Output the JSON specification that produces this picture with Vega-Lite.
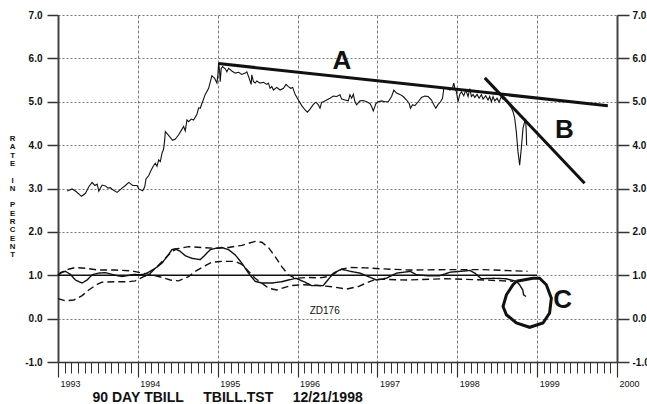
{
  "$schema": "https://vega.github.io/schema/vega-lite/v6.json",
  "width": 559,
  "height": 347,
  "autosize": "none",
  "padding": {"left": 58, "top": 15, "right": 30, "bottom": 42},
  "background": "white",
  "config": {"view": {"stroke": null}, "font": "Liberation Sans", "text": {"font": "Liberation Sans"}},
  "datasets": {
    "tbill": [
      {"x":1993.115,"y":2.94},{"x":1993.177,"y":2.99},{"x":1993.227,"y":2.93},{"x":1993.294,"y":2.82},{"x":1993.344,"y":2.89},
      {"x":1993.386,"y":3.04},{"x":1993.427,"y":3.14},{"x":1993.461,"y":3.07},{"x":1993.490,"y":3.10},{"x":1993.511,"y":2.94},
      {"x":1993.552,"y":3.08},{"x":1993.594,"y":3.06},{"x":1993.627,"y":3.01},{"x":1993.656,"y":3.02},{"x":1993.686,"y":2.97},
      {"x":1993.740,"y":2.91},{"x":1993.802,"y":3.01},{"x":1993.844,"y":3.07},{"x":1993.886,"y":3.14},{"x":1993.936,"y":3.07},
      {"x":1993.990,"y":3.07},{"x":1994.011,"y":2.99},{"x":1994.061,"y":2.95},{"x":1994.086,"y":3.04},{"x":1994.102,"y":3.22},
      {"x":1994.136,"y":3.30},{"x":1994.169,"y":3.43},{"x":1994.198,"y":3.53},{"x":1994.219,"y":3.58},{"x":1994.240,"y":3.51},
      {"x":1994.261,"y":3.66},{"x":1994.281,"y":3.62},{"x":1994.302,"y":3.81},{"x":1994.323,"y":3.91},{"x":1994.336,"y":4.12},
      {"x":1994.344,"y":4.31},{"x":1994.377,"y":4.24},{"x":1994.436,"y":4.11},{"x":1994.469,"y":4.14},{"x":1994.511,"y":4.24},
      {"x":1994.544,"y":4.34},{"x":1994.573,"y":4.43},{"x":1994.594,"y":4.33},{"x":1994.615,"y":4.58},{"x":1994.636,"y":4.54},
      {"x":1994.669,"y":4.60},{"x":1994.698,"y":4.58},{"x":1994.740,"y":4.71},{"x":1994.761,"y":4.86},{"x":1994.781,"y":4.85},
      {"x":1994.802,"y":4.96},{"x":1994.844,"y":5.17},{"x":1994.886,"y":5.31},{"x":1994.907,"y":5.46},{"x":1994.927,"y":5.60},
      {"x":1994.961,"y":5.54},{"x":1994.990,"y":5.43},{"x":1995.002,"y":5.62},{"x":1995.011,"y":5.89},{"x":1995.023,"y":5.73},
      {"x":1995.031,"y":5.46},{"x":1995.044,"y":5.77},{"x":1995.061,"y":5.81},{"x":1995.094,"y":5.76},{"x":1995.115,"y":5.69},
      {"x":1995.136,"y":5.77},{"x":1995.177,"y":5.71},{"x":1995.219,"y":5.66},{"x":1995.261,"y":5.68},{"x":1995.302,"y":5.63},
      {"x":1995.344,"y":5.66},{"x":1995.365,"y":5.69},{"x":1995.394,"y":5.54},{"x":1995.419,"y":5.40},{"x":1995.427,"y":5.62},
      {"x":1995.448,"y":5.46},{"x":1995.469,"y":5.43},{"x":1995.490,"y":5.48},{"x":1995.531,"y":5.43},{"x":1995.573,"y":5.45},
      {"x":1995.615,"y":5.40},{"x":1995.635,"y":5.43},{"x":1995.656,"y":5.31},{"x":1995.677,"y":5.35},{"x":1995.698,"y":5.27},
      {"x":1995.739,"y":5.33},{"x":1995.781,"y":5.27},{"x":1995.823,"y":5.31},{"x":1995.856,"y":5.40},{"x":1995.885,"y":5.35},
      {"x":1995.914,"y":5.31},{"x":1995.939,"y":5.33},{"x":1995.969,"y":5.17},{"x":1996.010,"y":5.04},{"x":1996.052,"y":4.91},
      {"x":1996.094,"y":4.81},{"x":1996.123,"y":4.76},{"x":1996.156,"y":4.83},{"x":1996.198,"y":4.94},{"x":1996.231,"y":4.99},
      {"x":1996.260,"y":4.93},{"x":1996.281,"y":4.85},{"x":1996.302,"y":4.99},{"x":1996.323,"y":5.00},{"x":1996.365,"y":5.04},
      {"x":1996.406,"y":5.08},{"x":1996.448,"y":5.13},{"x":1996.490,"y":5.12},{"x":1996.531,"y":5.16},{"x":1996.552,"y":5.06},
      {"x":1996.594,"y":5.04},{"x":1996.635,"y":5.02},{"x":1996.656,"y":5.16},{"x":1996.677,"y":5.08},{"x":1996.698,"y":5.17},
      {"x":1996.719,"y":5.00},{"x":1996.739,"y":4.93},{"x":1996.781,"y":5.02},{"x":1996.823,"y":5.03},{"x":1996.864,"y":5.00},
      {"x":1996.906,"y":4.96},{"x":1996.927,"y":4.89},{"x":1996.948,"y":4.79},{"x":1996.981,"y":4.96},{"x":1997.010,"y":5.00},
      {"x":1997.052,"y":5.02},{"x":1997.094,"y":5.00},{"x":1997.135,"y":5.00},{"x":1997.177,"y":5.12},{"x":1997.206,"y":5.27},
      {"x":1997.239,"y":5.20},{"x":1997.281,"y":5.17},{"x":1997.323,"y":5.12},{"x":1997.365,"y":5.04},{"x":1997.398,"y":4.96},
      {"x":1997.414,"y":4.85},{"x":1997.440,"y":4.93},{"x":1997.469,"y":4.91},{"x":1997.510,"y":5.00},{"x":1997.552,"y":5.10},
      {"x":1997.594,"y":5.13},{"x":1997.635,"y":5.12},{"x":1997.677,"y":5.04},{"x":1997.706,"y":4.93},{"x":1997.731,"y":4.85},
      {"x":1997.760,"y":4.94},{"x":1997.790,"y":5.00},{"x":1997.815,"y":5.08},{"x":1997.831,"y":5.30},{"x":1997.856,"y":5.31},
      {"x":1997.885,"y":5.30},{"x":1997.906,"y":5.27},{"x":1997.939,"y":5.31},{"x":1997.956,"y":5.43},{"x":1997.969,"y":5.31},
      {"x":1997.989,"y":5.23},{"x":1998.010,"y":5.00},{"x":1998.031,"y":5.17},{"x":1998.052,"y":5.23},{"x":1998.081,"y":5.14},
      {"x":1998.106,"y":5.27},{"x":1998.135,"y":5.12},{"x":1998.156,"y":5.30},{"x":1998.177,"y":5.12},{"x":1998.198,"y":5.17},
      {"x":1998.219,"y":5.10},{"x":1998.248,"y":5.17},{"x":1998.273,"y":5.08},{"x":1998.302,"y":5.16},{"x":1998.323,"y":5.06},
      {"x":1998.356,"y":5.14},{"x":1998.385,"y":5.04},{"x":1998.406,"y":5.12},{"x":1998.427,"y":5.00},{"x":1998.448,"y":5.12},
      {"x":1998.469,"y":5.02},{"x":1998.498,"y":5.08},{"x":1998.523,"y":4.99},{"x":1998.552,"y":5.12},{"x":1998.573,"y":5.06},
      {"x":1998.594,"y":5.10},{"x":1998.614,"y":5.04},{"x":1998.635,"y":5.00},{"x":1998.656,"y":4.91},{"x":1998.677,"y":4.86},
      {"x":1998.698,"y":4.77},{"x":1998.719,"y":4.62},{"x":1998.739,"y":4.31},{"x":1998.760,"y":3.85},{"x":1998.781,"y":3.54},
      {"x":1998.802,"y":3.93},{"x":1998.823,"y":4.39},{"x":1998.844,"y":4.54},{"x":1998.856,"y":4.58},{"x":1998.864,"y":4.31},
      {"x":1998.868,"y":4.00}
    ],
    "osc": [
      {"s":"S","x":1993.000,"y":1.00},{"s":"S","x":1993.031,"y":1.06},{"s":"S","x":1993.094,"y":1.09},{"s":"S","x":1993.156,"y":1.02},
      {"s":"S","x":1993.219,"y":0.89},{"s":"S","x":1993.302,"y":0.82},{"s":"S","x":1993.365,"y":0.89},{"s":"S","x":1993.427,"y":1.01},
      {"s":"S","x":1993.510,"y":1.05},{"s":"S","x":1993.594,"y":1.06},{"s":"S","x":1993.677,"y":1.02},{"s":"S","x":1993.740,"y":0.99},
      {"s":"S","x":1993.802,"y":0.97},{"s":"S","x":1993.865,"y":0.99},{"s":"S","x":1993.948,"y":1.02},{"s":"S","x":1994.010,"y":1.01},
      {"s":"S","x":1994.073,"y":1.02},{"s":"S","x":1994.135,"y":1.07},{"s":"S","x":1994.219,"y":1.16},{"s":"S","x":1994.302,"y":1.28},
      {"s":"S","x":1994.365,"y":1.43},{"s":"S","x":1994.427,"y":1.59},{"s":"S","x":1994.469,"y":1.61},{"s":"S","x":1994.531,"y":1.55},
      {"s":"S","x":1994.594,"y":1.45},{"s":"S","x":1994.677,"y":1.39},{"s":"S","x":1994.781,"y":1.36},{"s":"S","x":1994.844,"y":1.47},
      {"s":"S","x":1994.906,"y":1.59},{"s":"S","x":1994.969,"y":1.62},{"s":"S","x":1995.052,"y":1.64},{"s":"S","x":1995.135,"y":1.59},
      {"s":"S","x":1995.219,"y":1.47},{"s":"S","x":1995.302,"y":1.28},{"s":"S","x":1995.385,"y":1.05},{"s":"S","x":1995.469,"y":0.86},
      {"s":"S","x":1995.552,"y":0.82},{"s":"S","x":1995.677,"y":0.82},{"s":"S","x":1995.802,"y":0.85},{"s":"S","x":1995.885,"y":0.89},
      {"s":"S","x":1995.980,"y":0.93},{"s":"S","x":1996.094,"y":0.84},{"s":"S","x":1996.177,"y":0.76},{"s":"S","x":1996.320,"y":0.76},
      {"s":"S","x":1996.450,"y":1.05},{"s":"S","x":1996.550,"y":1.14},{"s":"S","x":1996.660,"y":1.09},{"s":"S","x":1996.780,"y":1.05},
      {"s":"S","x":1996.990,"y":0.89},{"s":"S","x":1997.110,"y":0.93},{"s":"S","x":1997.240,"y":1.05},{"s":"S","x":1997.410,"y":1.09},
      {"s":"S","x":1997.490,"y":1.01},{"s":"S","x":1997.620,"y":0.99},{"s":"S","x":1997.780,"y":0.99},{"s":"S","x":1997.910,"y":1.07},
      {"s":"S","x":1998.160,"y":1.11},{"s":"S","x":1998.220,"y":1.05},{"s":"S","x":1998.300,"y":0.92},{"s":"S","x":1998.450,"y":0.93},
      {"s":"S","x":1998.610,"y":0.92},{"s":"S","x":1998.740,"y":0.86},{"s":"S","x":1998.780,"y":0.78},{"s":"S","x":1998.820,"y":0.66},
      {"s":"S","x":1998.830,"y":0.55},{"s":"S","x":1998.860,"y":0.51},
      {"s":"X","x":1993.000,"y":1.01},{"s":"X","x":1993.094,"y":1.12},{"s":"X","x":1993.219,"y":1.18},{"s":"X","x":1993.344,"y":1.16},
      {"s":"X","x":1993.510,"y":1.12},{"s":"X","x":1993.719,"y":1.12},{"s":"X","x":1993.927,"y":1.10},{"s":"X","x":1994.052,"y":1.05},
      {"s":"X","x":1994.177,"y":1.01},{"s":"X","x":1994.302,"y":0.95},{"s":"X","x":1994.406,"y":0.89},{"s":"X","x":1994.510,"y":0.87},
      {"s":"X","x":1994.635,"y":0.97},{"s":"X","x":1994.719,"y":1.09},{"s":"X","x":1994.823,"y":1.20},{"s":"X","x":1994.927,"y":1.30},
      {"s":"X","x":1995.052,"y":1.32},{"s":"X","x":1995.219,"y":1.32},{"s":"X","x":1995.302,"y":1.25},{"s":"X","x":1995.385,"y":1.09},
      {"s":"X","x":1995.469,"y":0.93},{"s":"X","x":1995.552,"y":0.82},{"s":"X","x":1995.640,"y":0.70},{"s":"X","x":1995.740,"y":0.66},
      {"s":"X","x":1995.910,"y":0.76},{"s":"X","x":1996.070,"y":0.78},{"s":"X","x":1996.240,"y":0.77},{"s":"X","x":1996.450,"y":0.73},
      {"s":"X","x":1996.610,"y":0.68},{"s":"X","x":1996.760,"y":0.74},{"s":"X","x":1996.910,"y":0.86},{"s":"X","x":1996.990,"y":0.91},
      {"s":"X","x":1997.370,"y":0.89},{"s":"X","x":1997.860,"y":0.92},{"s":"X","x":1998.360,"y":0.89},{"s":"X","x":1998.700,"y":0.86},
      {"s":"Y","x":1993.000,"y":0.46},{"s":"Y","x":1993.094,"y":0.41},{"s":"Y","x":1993.198,"y":0.43},{"s":"Y","x":1993.302,"y":0.53},
      {"s":"Y","x":1993.385,"y":0.66},{"s":"Y","x":1993.490,"y":0.79},{"s":"Y","x":1993.552,"y":0.84},{"s":"Y","x":1993.719,"y":0.85},
      {"s":"Y","x":1993.885,"y":0.85},{"s":"Y","x":1993.969,"y":0.87},{"s":"Y","x":1994.073,"y":0.97},{"s":"Y","x":1994.135,"y":1.01},
      {"s":"Y","x":1994.219,"y":1.16},{"s":"Y","x":1994.344,"y":1.39},{"s":"Y","x":1994.427,"y":1.55},{"s":"Y","x":1994.490,"y":1.61},
      {"s":"Y","x":1994.635,"y":1.66},{"s":"Y","x":1994.802,"y":1.64},{"s":"Y","x":1994.969,"y":1.62},{"s":"Y","x":1995.135,"y":1.64},
      {"s":"Y","x":1995.302,"y":1.69},{"s":"Y","x":1995.469,"y":1.78},{"s":"Y","x":1995.552,"y":1.76},{"s":"Y","x":1995.635,"y":1.64},
      {"s":"Y","x":1995.719,"y":1.43},{"s":"Y","x":1995.802,"y":1.20},{"s":"Y","x":1995.885,"y":1.01},{"s":"Y","x":1995.969,"y":0.93},
      {"s":"Y","x":1996.135,"y":0.95},{"s":"Y","x":1996.280,"y":0.94},{"s":"Y","x":1996.410,"y":0.98},{"s":"Y","x":1996.550,"y":1.14},
      {"s":"Y","x":1996.660,"y":1.18},{"s":"Y","x":1996.850,"y":1.17},{"s":"Y","x":1997.030,"y":1.15},{"s":"Y","x":1997.410,"y":1.12},
      {"s":"Y","x":1997.910,"y":1.13},{"s":"Y","x":1998.320,"y":1.13},{"s":"Y","x":1998.600,"y":1.11},{"s":"Y","x":1998.880,"y":1.09}
    ],
    "ref": [{"x":1993,"y":1},{"x":1999,"y":1}],
    "trend": [
      {"k":"A","x":1995.01,"y":5.88},{"k":"A","x":1999.885,"y":4.91},
      {"k":"B","x":1998.344,"y":5.55},{"k":"B","x":1999.594,"y":3.12}
    ],
    "circle": [
      {"i":0,"x":1998.740,"y":0.86},{"i":1,"x":1998.947,"y":0.93},{"i":2,"x":1999.031,"y":0.93},{"i":3,"x":1999.115,"y":0.78},
      {"i":4,"x":1999.178,"y":0.47},{"i":5,"x":1999.156,"y":0.13},{"i":6,"x":1999.073,"y":-0.10},{"i":7,"x":1998.906,"y":-0.20},
      {"i":8,"x":1998.740,"y":-0.10},{"i":9,"x":1998.615,"y":0.09},{"i":10,"x":1998.573,"y":0.28},{"i":11,"x":1998.615,"y":0.55},
      {"i":12,"x":1998.698,"y":0.78},{"i":13,"x":1998.740,"y":0.86}
    ],
    "letters": [
      {"t":"A","x":1996.556,"y":5.99},{"t":"B","x":1999.34,"y":4.40},{"t":"C","x":1999.32,"y":0.48}
    ],
    "notes": [{"t":"ZD176","x":1996.34,"y":0.18}]
  },
  "layer": [
    {
      "data": {"name": "tbill"},
      "mark": {"type": "line", "color": "#111", "strokeWidth": 1.1},
      "encoding": {
        "x": {"field": "x", "type": "quantitative", "scale": {"domain": [1993, 2000], "nice": false, "zero": false},
          "axis": {"orient": "bottom", "values": [1993,1994,1995,1996,1997,1998,1999,2000], "format": "d",
            "grid": true, "gridDash": [3,2], "gridColor": "#555", "gridWidth": 0.8,
            "tickSize": 15, "tickWidth": 1.2, "tickColor": "#333", "domainColor": "#333", "domainWidth": 1.5,
            "labelAlign": "left", "labelBaseline": "top", "labelPadding": 2, "labelOffset": 2, "labelFontSize": 9,
            "labelColor": "#111", "labelFlush": false, "labelOverlap": false, "labelBound": false,
            "title": "90\u00a0DAY\u00a0TBILL\u00a0\u00a0\u00a0\u00a0\u00a0TBILL.TST\u00a0\u00a0\u00a0\u00a0\u00a012/21/1998",
            "titleX": 34, "titleY": 39, "titleAlign": "left", "titleBaseline": "alphabetic", "titleFontSize": 14,
            "titleFontWeight": "bold", "titleColor": "#111"}},
        "y": {"field": "y", "type": "quantitative", "scale": {"domain": [-1, 7], "nice": false, "zero": false},
          "axis": {"orient": "left", "values": [-1,0,1,2,3,4,5,6,7],
            "labelExpr": "datum.value < 0 ? '-' + format(-datum.value, '.1f') : format(datum.value, '.1f')",
            "grid": true, "gridDash": [2,2], "gridColor": "#555", "gridWidth": 0.8,
            "tickSize": 11, "tickWidth": 1.5, "tickColor": "#333", "domainColor": "#444", "domainWidth": 2,
            "labelFontSize": 10, "labelFontWeight": "bold", "labelColor": "#111", "labelPadding": 5,
            "title": ["R","A","T","E","\u200b","I","N","\u200b","P","E","R","C","E","N","T"],
            "titleAngle": 0, "titleX": -46, "titleY": 119.5, "titleAlign": "center", "titleBaseline": "top",
            "titleFontSize": 7.8, "titleFontWeight": "bold", "titleLineHeight": 8.3, "titleColor": "#111"}}
      }
    },
    {
      "data": {"name": "osc"},
      "mark": {"type": "line", "color": "#111", "strokeWidth": 1.4},
      "encoding": {
        "x": {"field": "x", "type": "quantitative", "scale": {"domain": [1993, 2000], "nice": false, "zero": false},
          "axis": {"orient": "bottom", "values": [1993,1993.0833,1993.1667,1993.25,1993.3333,1993.4167,1993.5,1993.5833,1993.6667,1993.75,1993.8333,1993.9167,
            1994,1994.0833,1994.1667,1994.25,1994.3333,1994.4167,1994.5,1994.5833,1994.6667,1994.75,1994.8333,1994.9167,
            1995,1995.0833,1995.1667,1995.25,1995.3333,1995.4167,1995.5,1995.5833,1995.6667,1995.75,1995.8333,1995.9167,
            1996,1996.0833,1996.1667,1996.25,1996.3333,1996.4167,1996.5,1996.5833,1996.6667,1996.75,1996.8333,1996.9167,
            1997,1997.0833,1997.1667,1997.25,1997.3333,1997.4167,1997.5,1997.5833,1997.6667,1997.75,1997.8333,1997.9167,
            1998,1998.0833,1998.1667,1998.25,1998.3333,1998.4167,1998.5,1998.5833,1998.6667,1998.75,1998.8333,1998.9167,
            1999,1999.0833,1999.1667,1999.25,1999.3333,1999.4167,1999.5,1999.5833,1999.6667,1999.75,1999.8333,1999.9167,2000],
            "grid": false, "labels": false, "domain": false, "tickSize": 11, "tickWidth": 1, "tickColor": "#333", "title": null}},
        "y": {"field": "y", "type": "quantitative", "scale": {"domain": [-1, 7], "nice": false, "zero": false},
          "axis": {"orient": "right", "values": [-1,0,1,2,3,4,5,6,7],
            "labelExpr": "datum.value < 0 ? '-' + format(-datum.value, '.1f') : format(datum.value, '.1f')",
            "grid": false, "tickSize": 12, "tickWidth": 1.5, "tickColor": "#333", "domainColor": "#444", "domainWidth": 2,
            "labelFontSize": 10, "labelFontWeight": "bold", "labelColor": "#111", "labelPadding": 3, "title": null}},
        "detail": {"field": "s"},
        "strokeDash": {"field": "s", "type": "nominal", "scale": {"domain": ["S","X","Y"], "range": [[1,0],[7,4],[7,4]]}, "legend": null}
      }
    },
    {
      "data": {"name": "ref"},
      "mark": {"type": "line", "color": "#111", "strokeWidth": 1.3},
      "encoding": {
        "x": {"field": "x", "type": "quantitative", "scale": {"domain": [1993, 2000], "nice": false, "zero": false}, "axis": null},
        "y": {"field": "y", "type": "quantitative", "scale": {"domain": [-1, 7], "nice": false, "zero": false}, "axis": null}
      }
    },
    {
      "data": {"name": "trend"},
      "mark": {"type": "line", "color": "#111", "strokeWidth": 3},
      "encoding": {
        "x": {"field": "x", "type": "quantitative", "scale": {"domain": [1993, 2000], "nice": false, "zero": false}, "axis": null},
        "y": {"field": "y", "type": "quantitative", "scale": {"domain": [-1, 7], "nice": false, "zero": false}, "axis": null},
        "detail": {"field": "k"}
      }
    },
    {
      "data": {"name": "circle"},
      "mark": {"type": "line", "color": "#111", "strokeWidth": 3, "strokeJoin": "miter"},
      "encoding": {
        "x": {"field": "x", "type": "quantitative", "scale": {"domain": [1993, 2000], "nice": false, "zero": false}, "axis": null},
        "y": {"field": "y", "type": "quantitative", "scale": {"domain": [-1, 7], "nice": false, "zero": false}, "axis": null},
        "order": {"field": "i", "type": "quantitative"}
      }
    },
    {
      "data": {"name": "letters"},
      "mark": {"type": "text", "fontSize": 26, "fontWeight": "bold", "color": "#111", "align": "center", "baseline": "middle", "dy": 2},
      "encoding": {
        "x": {"field": "x", "type": "quantitative", "scale": {"domain": [1993, 2000], "nice": false, "zero": false}, "axis": null},
        "y": {"field": "y", "type": "quantitative", "scale": {"domain": [-1, 7], "nice": false, "zero": false}, "axis": null},
        "text": {"field": "t"}
      }
    },
    {
      "data": {"name": "notes"},
      "mark": {"type": "text", "fontSize": 10, "color": "#111", "align": "center", "baseline": "middle"},
      "encoding": {
        "x": {"field": "x", "type": "quantitative", "scale": {"domain": [1993, 2000], "nice": false, "zero": false}, "axis": null},
        "y": {"field": "y", "type": "quantitative", "scale": {"domain": [-1, 7], "nice": false, "zero": false}, "axis": null},
        "text": {"field": "t"}
      }
    }
  ],
  "resolve": {"axis": {"x": "independent", "y": "independent"}}
}
